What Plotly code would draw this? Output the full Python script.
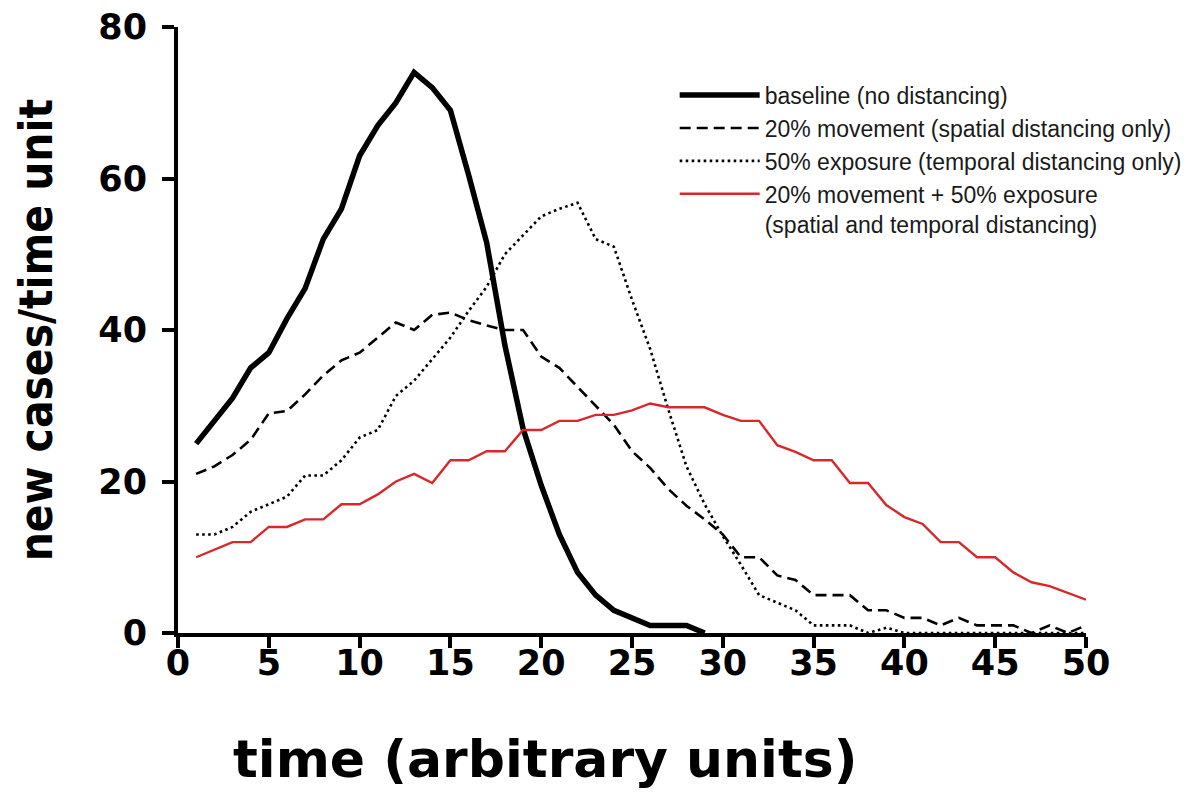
import plotly.graph_objects as go

# time points
time_all = list(range(1, 51))
time_baseline = list(range(1, 30))

baseline = [25, 28, 31, 35, 37, 41.5, 45.5, 52, 56, 63, 67, 70, 74, 72, 69, 60.5, 51.5,
            38, 27, 19.5, 13, 8, 5, 3, 2, 1, 1, 1, 0]

movement20 = [21, 22, 23.5, 25.5, 29, 29.3, 31.5, 34, 36, 37, 39, 41, 40, 42, 42.3, 41.3,
              40.6, 40, 40, 36.5, 35, 32.5, 30, 27.5, 24, 21.8, 19, 16.8, 15, 13, 10, 10,
              7.6, 7, 5, 5, 5, 3, 3, 2, 2, 1, 2, 1, 1, 1, 0, 1, 0, 1]

exposure50 = [13, 13, 14, 16, 17, 18, 20.8, 20.8, 22.8, 25.8, 26.8, 31.3, 33.3, 36.2, 39,
              42.5, 45.7, 50, 52.5, 55, 56, 56.8, 52, 51, 44, 37.5, 29.5, 22, 17, 12.8, 9,
              5, 4, 3, 1, 1, 1, 0, 0.7, 0, 0, 0, 0, 0, 0, 0, 0, 0, 0, 0]

combined = [10, 11, 12, 12, 14, 14, 15, 15, 17, 17, 18.3, 20, 21, 19.8, 22.8, 22.8, 24, 24,
            26.8, 26.8, 28, 28, 28.8, 28.8, 29.4, 30.3, 29.8, 29.8, 29.8, 28.8, 28, 28, 24.8,
            23.9, 22.8, 22.8, 19.8, 19.8, 16.9, 15.3, 14.4, 12, 12, 10, 10, 8, 6.7, 6.2, 5.3, 4.4]

names = ["baseline (no distancing)",
         "20% movement (spatial distancing only)",
         "50% exposure (temporal distancing only)",
         "20% movement + 50% exposure<br>(spatial and temporal distancing)"]

x_ticks = [0, 5, 10, 15, 20, 25, 30, 35, 40, 45, 50]
y_ticks = [0, 20, 40, 60, 80]

x_title = "time (arbitrary units)"
y_title = "new cases/time unit"

RED = "#d7282a"

fig = go.Figure()
fig.add_trace(go.Scatter(x=time_baseline, y=baseline, mode="lines", name=names[0],
                         line=dict(color="black", width=5.5), cliponaxis=False))
fig.add_trace(go.Scatter(x=time_all, y=movement20, mode="lines", name=names[1],
                         line=dict(color="black", width=2.6, dash="11px,6px"), cliponaxis=False))
fig.add_trace(go.Scatter(x=time_all, y=exposure50, mode="lines", name=names[2],
                         line=dict(color="black", width=2.6, dash="2.6px,3.4px"), cliponaxis=False))
fig.add_trace(go.Scatter(x=time_all, y=combined, mode="lines", name=names[3],
                         line=dict(color=RED, width=2.4), cliponaxis=False))

tick_font = dict(family="DejaVu Sans", size=35, color="black", weight="bold")

fig.update_layout(
    width=1196, height=784,
    margin=dict(l=170, r=118, t=19, b=159, autoexpand=False),
    paper_bgcolor="white", plot_bgcolor="white",
    showlegend=True,
    legend=dict(x=0.547, y=0.923, xanchor="left", yanchor="top",
                font=dict(family="Liberation Sans", size=23, color="#1a1a1a"),
                bgcolor="rgba(0,0,0,0)", valign="top", tracegroupgap=2,
                itemwidth=80),
    xaxis=dict(range=[0, 50], tickvals=x_ticks, ticktext=[str(v) for v in x_ticks],
               showline=True, linecolor="black", linewidth=4, mirror=False,
               ticks="outside", ticklen=11, tickwidth=4, tickcolor="black",
               showgrid=False, zeroline=False, tickfont=tick_font, automargin=False,
               ticklabelstandoff=-15, ticklabeloverflow="allow"),
    yaxis=dict(range=[0, 80], tickvals=y_ticks, ticktext=[str(v) for v in y_ticks],
               showline=True, linecolor="black", linewidth=4, mirror=False,
               ticks="outside", ticklen=12, tickwidth=4, tickcolor="black",
               showgrid=False, zeroline=False, tickfont=tick_font, automargin=False,
               ticklabelstandoff=8, ticklabeloverflow="allow"),
    annotations=[
        dict(text=x_title, xref="paper", yref="paper", x=0.404, y=-0.2605,
             xanchor="center", yanchor="bottom", showarrow=False,
             font=dict(family="DejaVu Sans", size=52, color="black", weight="bold")),
        dict(text=y_title, xref="paper", yref="paper", x=-0.156, y=0.5,
             xanchor="center", yanchor="middle", showarrow=False, textangle=-90,
             font=dict(family="DejaVu Sans Condensed, Liberation Sans", size=45.5,
                       color="black", weight="bold")),
    ],
)

fig.write_html("out.html")
